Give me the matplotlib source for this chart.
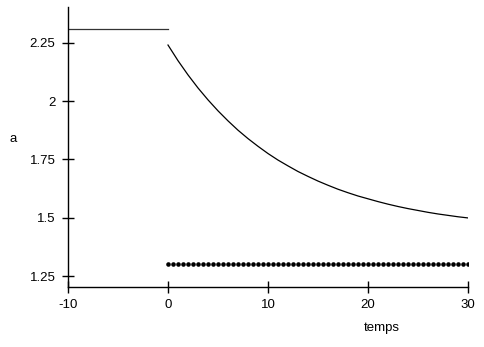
import numpy as np
import matplotlib
matplotlib.use("Agg")
import matplotlib.pyplot as plt

plt.rcParams['font.family'] = ['Liberation Sans', 'DejaVu Sans']
plt.rcParams['axes.unicode_minus'] = False

# before the step: constant level
pre_t = [-10, 0]
pre_a = [2.31, 2.31]

# after the step: decay
post_t = list(range(0, 31))
post_a = [2.240, 2.173, 2.112, 2.056, 2.005, 1.958, 1.915, 1.875, 1.839, 1.806,
          1.775, 1.747, 1.722, 1.698, 1.677, 1.657, 1.639, 1.622, 1.607, 1.593,
          1.581, 1.569, 1.558, 1.548, 1.539, 1.531, 1.523, 1.516, 1.510, 1.504,
          1.499]

# dotted level
dot_t = np.arange(0, 30.5, 0.5)
dot_a = np.full(len(dot_t), 1.30)

x_ticks = [-10, 0, 10, 20, 30]
y_ticks = [1.25, 1.5, 1.75, 2, 2.25]
y_labels = ['1.25', '1.5', '1.75', '2', '2.25']

fig = plt.figure(figsize=(4.84, 3.47), dpi=100)
ax = fig.add_axes([68 / 484, 60 / 347, 400 / 484, 280 / 347])

ax.plot(pre_t, pre_a, color='#333333', lw=0.9)
ax.plot(post_t, post_a, color='black', lw=0.9)
ax.plot(dot_t, dot_a, 'o', color='black', ms=3.3, mew=0)

ax.set_xlim(-10, 30)
ax.set_ylim(1.203, 2.403)
ax.set_xticks(x_ticks)
ax.set_yticks(y_ticks)
ax.set_yticklabels(y_labels)

for side in ['top', 'right']:
    ax.spines[side].set_visible(False)
for side in ['left', 'bottom']:
    ax.spines[side].set_linewidth(1)
ax.tick_params(direction='inout', length=8, width=1, labelsize=9.5, pad=5)

fig.text(10 / 484, 1 - 139 / 347, 'a', fontsize=9.5, ha='left', va='center')
fig.text(382 / 484, 1 - 328 / 347, 'temps', fontsize=9.5, ha='center', va='center')

fig.savefig('out.png', dpi=100)
